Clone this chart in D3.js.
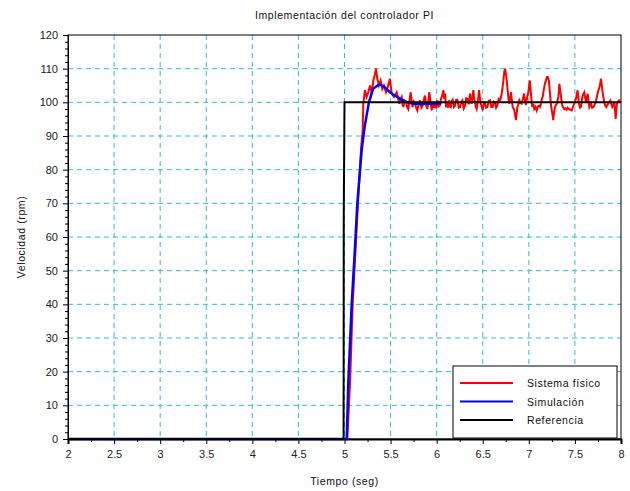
<!DOCTYPE html>
<html><head><meta charset="utf-8">
<script src="https://cdn.jsdelivr.net/npm/d3@7"></script>
<style>body{margin:0;background:#fff}svg{display:block}text{font-family:"Liberation Sans",Arial,sans-serif}</style>
</head><body><svg id="c" width="630" height="491"></svg>
<script>
const title = "Implementación del controlador PI";
const xLabel = "Tiempo (seg)";
const yLabel = "Velocidad (rpm)";
const xTicks = [2,2.5,3,3.5,4,4.5,5,5.5,6,6.5,7,7.5,8];
const yTicks = [0,10,20,30,40,50,60,70,80,90,100,110,120];
const seriesNames = ["Sistema físico","Simulación","Referencia"];
const seriesColors = ["#ff0000","#0000ff","#000000"];

// Referencia: [tiempo, valor]
const refSamples = [[2,0],[4.99,0],[4.992,66.7],[5.0,100],[8,100]];

// Simulación: [tiempo, valor]
const simSamples = [[2,0],[5.0,0],[5.024,0],[5.041,16.6],[5.078,40],[5.114,57],[5.139,70],[5.187,86],[5.22,93],[5.265,100],[5.31,104],[5.378,105.4],[5.43,104.6],[5.493,103],[5.55,101.9],[5.602,101.1],[5.674,100.1],[5.747,99.6],[5.85,99.5],[5.95,99.6],[6.05,99.7]];

// Sistema físico: [tiempo, valor]
const realSamples = [[2,0],[5.02,0],[5.03,0],[5.06,16.6],[5.089,40],[5.121,57],[5.146,70],[5.179,86],[5.197,91.7],[5.204,99.6],[5.222,103.6],[5.240,101.6],[5.258,103],[5.277,105],[5.295,102.6],[5.313,106.5],[5.331,108.5],[5.342,110],[5.356,107],[5.374,105],[5.392,106.5],[5.410,104],[5.428,105],[5.450,103],[5.468,104.5],[5.493,107],[5.512,102.6],[5.537,101.6],[5.566,103],[5.595,99.6],[5.608,101],[5.620,101.6],[5.630,99.4],[5.638,98.6],[5.652,100.4],[5.667,100],[5.68,98.6],[5.692,98],[5.705,100.6],[5.718,103],[5.728,100.4],[5.739,98.6],[5.752,100.2],[5.765,99.6],[5.778,98.4],[5.790,97.6],[5.805,99.4],[5.819,100.6],[5.834,98.4],[5.848,99],[5.86,100.8],[5.873,102],[5.886,99.2],[5.899,98],[5.91,100.6],[5.920,103],[5.933,100.2],[5.946,97.6],
[5.957,100],[5.968,98.4],[5.982,99.8],[5.994,98.2],[6.007,100.6],[6.02,98.8],[6.037,99.2],[6.046,101],[6.055,101.6],[6.064,102.5],[6.073,103.6],[6.082,101],[6.091,102.6],[6.1,99.2],[6.109,99.6],[6.12,98.4],[6.134,100.6],[6.143,98.8],[6.152,98.6],[6.163,100.4],[6.174,100.8],[6.186,98.6],[6.199,99],[6.212,100.8],[6.225,100.8],[6.24,98.4],[6.254,98.6],[6.266,100.2],[6.279,100.6],[6.294,98.2],[6.308,99],[6.32,101.2],[6.333,101],[6.347,99.4],[6.362,102.6],[6.371,100.2],[6.380,99.6],[6.389,101.8],[6.398,103.6],[6.407,101],[6.416,100],[6.425,98.6],[6.434,98],[6.447,100.4],[6.460,103.6],[6.469,101.4],[6.478,99.6],[6.488,98.8],[6.499,97.6],[6.512,99.8],[6.525,99.6],[6.537,98.4],[6.550,98.6],[6.565,100.4],[6.579,100.6],[6.593,98.6],[6.608,98.6],[6.62,100.2],[6.633,100],[6.645,98.4],[6.658,99],[6.672,101],[6.687,100.6],[6.696,101.4],[6.706,102.6],[6.715,104.5],[6.724,106.5],[6.733,109],[6.742,110],[6.751,108.5],[6.760,106.5],[6.767,104.5],[6.774,102.6],[6.781,100.6],[6.789,99.6],[6.798,101.4],[6.807,103],[6.816,100.4],[6.825,98.6],[6.834,98.2],[6.843,97.6],[6.852,96],[6.861,94.7],[6.868,96.8],[6.876,98.6],[6.886,99.4],[6.897,100.6],[6.91,99.8],[6.922,99.6],[6.935,101],[6.948,102.6],
[6.958,100.6],[6.967,99.2],[6.976,100.6],[6.985,101.8],[6.994,103],[7.003,104.8],[7.012,106.5],[7.018,104],[7.023,102.6],[7.03,100.2],[7.038,98.6],[7.048,99.6],[7.059,98],[7.072,98.6],[7.085,97.6],[7.097,98.8],[7.110,99],[7.121,98.6],[7.132,99.6],[7.141,101],[7.150,101.6],[7.159,103.2],[7.168,104.6],[7.177,105.8],[7.186,106.5],[7.195,107.5],[7.204,107.5],[7.211,107],[7.218,106.5],[7.225,104],[7.233,101.6],[7.24,99.2],[7.247,98],[7.256,96.4],[7.265,94.7],[7.274,97],[7.283,98.6],[7.294,99.2],[7.305,99.6],[7.312,100.6],[7.320,101.6],[7.326,103.4],[7.331,105.5],[7.338,104],[7.345,102.6],[7.354,100.6],[7.363,99],[7.374,98.4],[7.385,98],[7.397,98.2],[7.410,97.8],[7.422,98.4],[7.435,98],[7.45,97.8],[7.464,97.6],[7.478,98.6],[7.493,99.6],[7.502,100.2],[7.511,101.1],[7.52,102.4],[7.529,103.6],[7.536,101.4],[7.544,99.6],[7.555,98.4],[7.566,98.6],[7.573,100.2],[7.580,101.6],[7.591,102.4],[7.602,103],[7.611,101.4],[7.620,100],[7.629,101.4],[7.638,102.6],[7.647,100.6],[7.656,98.6],[7.665,99.2],[7.675,99.6],[7.687,98.4],[7.700,98.6],[7.712,99.2],[7.725,100],[7.735,101.2],[7.746,102.6],[7.757,103.8],[7.768,104.6],[7.776,105.8],[7.783,107],[7.79,105.4],[7.797,103.6],[7.808,101.6],[7.819,100],[7.83,99],[7.840,98.6],[7.851,99.2],[7.862,99.6],[7.873,100.2],[7.884,100.6],[7.895,99.6],[7.905,98.6],[7.916,99.2],[7.927,100],[7.935,98],[7.942,95.1],[7.949,97.4],[7.956,99.6],[7.967,100.2],[7.978,100.6],[7.989,100.2],[8.0,100]];

const svg = d3.select("#c");
const L=68, R=621, T=35, B=439;
const x = d3.scaleLinear().domain([2,8]).range([L,R]);
const y = d3.scaleLinear().domain([0,120]).range([B,T]);

// grid
const g = svg.append("g").attr("stroke","#33bfbf").attr("stroke-width",1).attr("stroke-dasharray","5,4");
xTicks.slice(1,-1).forEach(t=>g.append("line").attr("x1",x(t)).attr("x2",x(t)).attr("y1",T).attr("y2",B));
yTicks.slice(1,-1).forEach(v=>g.append("line").attr("x1",L).attr("x2",R).attr("y1",y(v)).attr("y2",y(v)));

// frame
svg.append("rect").attr("x",L).attr("y",T).attr("width",R-L).attr("height",B-T).attr("fill","none").attr("stroke","#000").attr("stroke-width",1);

// axes
const yMinor = d3.range(0,121,2).filter(v=>v%10!==0);
const xAxis = d3.axisBottom(x).tickValues(xTicks).tickFormat(d=>d3.format("")(d)).tickSize(5).tickPadding(6);
const yAxis = d3.axisLeft(y).tickValues(yTicks).tickSize(5).tickPadding(5);
const xa = svg.append("g").attr("transform",`translate(0,${B})`).call(xAxis);
const ya = svg.append("g").attr("transform",`translate(${L},0)`).call(yAxis);
svg.append("g").attr("transform",`translate(0,${B})`).call(d3.axisBottom(x).tickValues(d3.range(2.25,8,0.5)).tickSize(3).tickFormat(""));
svg.append("g").attr("transform",`translate(${L},0)`).call(d3.axisLeft(y).tickValues(yMinor).tickSize(3).tickFormat(""));
svg.selectAll(".domain").attr("stroke","#000");
[xa,ya].forEach(a=>a.selectAll("text").attr("font-size",11).attr("fill","#222").style("font-family","'Liberation Sans',Arial,sans-serif"));
xa.select(".domain").attr("stroke-width",2);

// lines
const line = d3.line().x(d=>x(d[0])).y(d=>y(d[1]));
const series = [realSamples, simSamples, refSamples];
const widths = [2, 2.5, 2];
series.forEach((s,i)=>svg.append("path").datum(s).attr("d",line).attr("fill","none").attr("stroke",seriesColors[i]).attr("stroke-width",widths[i]).attr("stroke-linejoin","miter"));

// texts
svg.append("text").attr("x",(L+R)/2).attr("y",19).attr("text-anchor","middle").attr("font-size",10.5).attr("letter-spacing","0.6").attr("fill","#111").text(title);
svg.append("text").attr("x",(L+R)/2).attr("y",485).attr("text-anchor","middle").attr("font-size",10.5).attr("letter-spacing","0.6").attr("fill","#111").text(xLabel);
svg.append("text").attr("transform",`translate(25,${(T+B)/2}) rotate(-90)`).attr("text-anchor","middle").attr("font-size",10.5).attr("letter-spacing","0.6").attr("fill","#111").text(yLabel);

// legend
const lg = svg.append("g");
lg.append("rect").attr("x",453).attr("y",366).attr("width",164).attr("height",72).attr("fill","#fff").attr("stroke","#000").attr("stroke-width",1);
seriesNames.forEach((n,i)=>{
  const yy = 383 + i*18.5;
  lg.append("line").attr("x1",460).attr("x2",513).attr("y1",yy).attr("y2",yy).attr("stroke",seriesColors[i]).attr("stroke-width",2);
  lg.append("text").attr("x",527).attr("y",yy+4).attr("font-size",10.5).attr("letter-spacing","0.6").attr("fill","#111").text(n);
});
</script></body></html>
